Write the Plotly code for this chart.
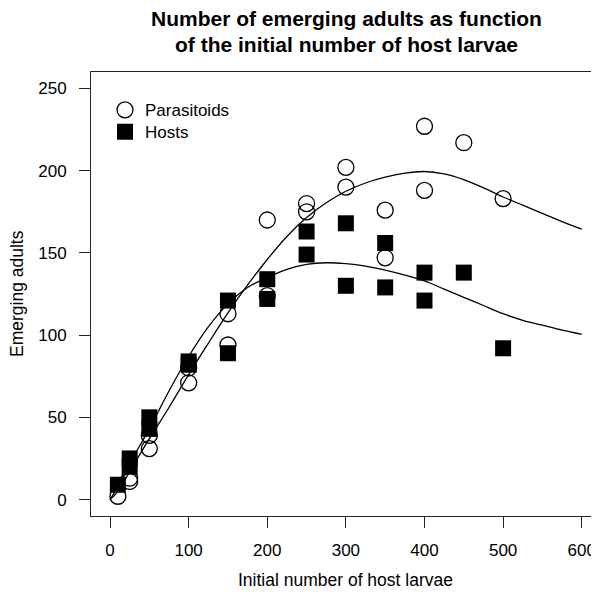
import plotly.graph_objects as go

# Observed data
para_x = [10, 25, 25, 50, 50, 100, 100, 150, 150, 200, 200, 250, 250, 300, 300, 350, 350, 400, 400, 450, 500]
para_y = [2, 13, 11, 39, 31, 80, 71, 113, 94, 170, 124, 180, 175, 202, 190, 176, 147, 227, 188, 217, 183]

host_x = [10, 25, 25, 50, 50, 100, 100, 150, 150, 200, 200, 250, 250, 300, 300, 350, 350, 400, 400, 450, 500]
host_y = [9, 25, 20, 50, 43, 84, 82, 121, 89, 134, 122, 163, 149, 168, 130, 156, 129, 138, 121, 138, 92]

# Fitted curves
curve_x = [0, 10, 25, 50, 75, 100, 125, 150, 175, 200, 225, 250, 275, 300, 325, 350, 375, 400,
           425, 450, 475, 500, 525, 550, 575, 600]
para_fit = [0, 5, 17, 37, 56, 76, 95, 113.5, 130.5, 146, 160, 171.5, 180.5, 187.5, 192.5, 196,
            198.5, 199.5, 198, 194.5, 189.5, 184, 179, 174, 169, 164.5]
host_fit = [0, 8, 22, 43, 66, 87, 105, 119, 129, 135, 140, 143, 144, 143.5, 142, 139.5, 136.5,
            133, 128, 123, 118, 113, 109, 106, 103, 100.5]

x_ticks = [0, 100, 200, 300, 400, 500, 600]
y_ticks = [0, 50, 100, 150, 200, 250]

FONT = "Liberation Sans, Arial, Helvetica, sans-serif"

# plot-area geometry (figure pixels; page has an 8px body margin)
W, H = 591, 587
L, R, T, B = 83, 591.0, 63.7, 508.0
PW, PH = R - L, B - T
X0 = -24.2
X1 = X0 + PW / 0.78617  # keep 0.786 px per unit


def px(xp):
    return (xp - L) / PW


def py(yp):
    return (B - yp) / PH


fig = go.Figure()
fig.add_trace(go.Scatter(x=curve_x, y=para_fit, mode="lines", line=dict(color="black", width=1.3, shape="spline"),
                         showlegend=False, hoverinfo="skip"))
fig.add_trace(go.Scatter(x=curve_x, y=host_fit, mode="lines", line=dict(color="black", width=1.3, shape="spline"),
                         showlegend=False, hoverinfo="skip"))
fig.add_trace(go.Scatter(x=para_x, y=para_y, mode="markers", name="Parasitoids", legend="legend",
                         marker=dict(symbol="circle-open", size=16, color="black", line=dict(width=1.3, color="black"))))
fig.add_trace(go.Scatter(x=host_x, y=host_y, mode="markers", name="Hosts", legend="legend2",
                         marker=dict(symbol="square", size=16, color="black", line=dict(width=0))))

leg_common = dict(xanchor="left", yanchor="top", bgcolor="rgba(0,0,0,0)", font=dict(size=17))

fig.update_layout(
    width=W, height=H,
    margin=dict(l=L, r=W - R, t=T, b=H - B, autoexpand=False),
    paper_bgcolor="white", plot_bgcolor="white",
    font=dict(family=FONT, size=17, color="black"),
    showlegend=True,
    legend=dict(x=px(97), y=py(84), **leg_common),
    legend2=dict(x=px(97), y=py(106), **leg_common),
    xaxis=dict(range=[X0, X1], tickvals=x_ticks, ticks="outside", ticklen=11, tickwidth=1,
               tickcolor="#222", showline=True, linecolor="#222", linewidth=1, mirror=True,
               showgrid=False, zeroline=False, tickfont=dict(size=17), ticklabelstandoff=8,
               automargin=False),
    yaxis=dict(range=[-10, 260], tickvals=y_ticks, ticks="outside", ticklen=11, tickwidth=1,
               tickcolor="#222", showline=True, linecolor="#222", linewidth=1, mirror=False,
               showgrid=False, zeroline=False, tickfont=dict(size=17), ticklabelstandoff=9,
               automargin=False),
    annotations=[
        dict(text="<b>Number of emerging adults as function</b>", xref="paper", yref="paper",
             x=px(338), y=py(10), xanchor="center", yanchor="middle",
             showarrow=False, font=dict(size=21)),
        dict(text="<b>of the initial number of host larvae</b>", xref="paper", yref="paper",
             x=px(338), y=py(36), xanchor="center", yanchor="middle",
             showarrow=False, font=dict(size=21)),
        dict(text="Initial number of host larvae", xref="paper", yref="paper",
             x=px(337), y=py(572), xanchor="center", yanchor="middle",
             showarrow=False, font=dict(size=17.5)),
        dict(text="Emerging adults", xref="paper", yref="paper",
             x=px(9), y=0.5, xanchor="center", yanchor="middle", textangle=-90,
             showarrow=False, font=dict(size=17.5)),
    ],
)

fig.write_html("out.html")
